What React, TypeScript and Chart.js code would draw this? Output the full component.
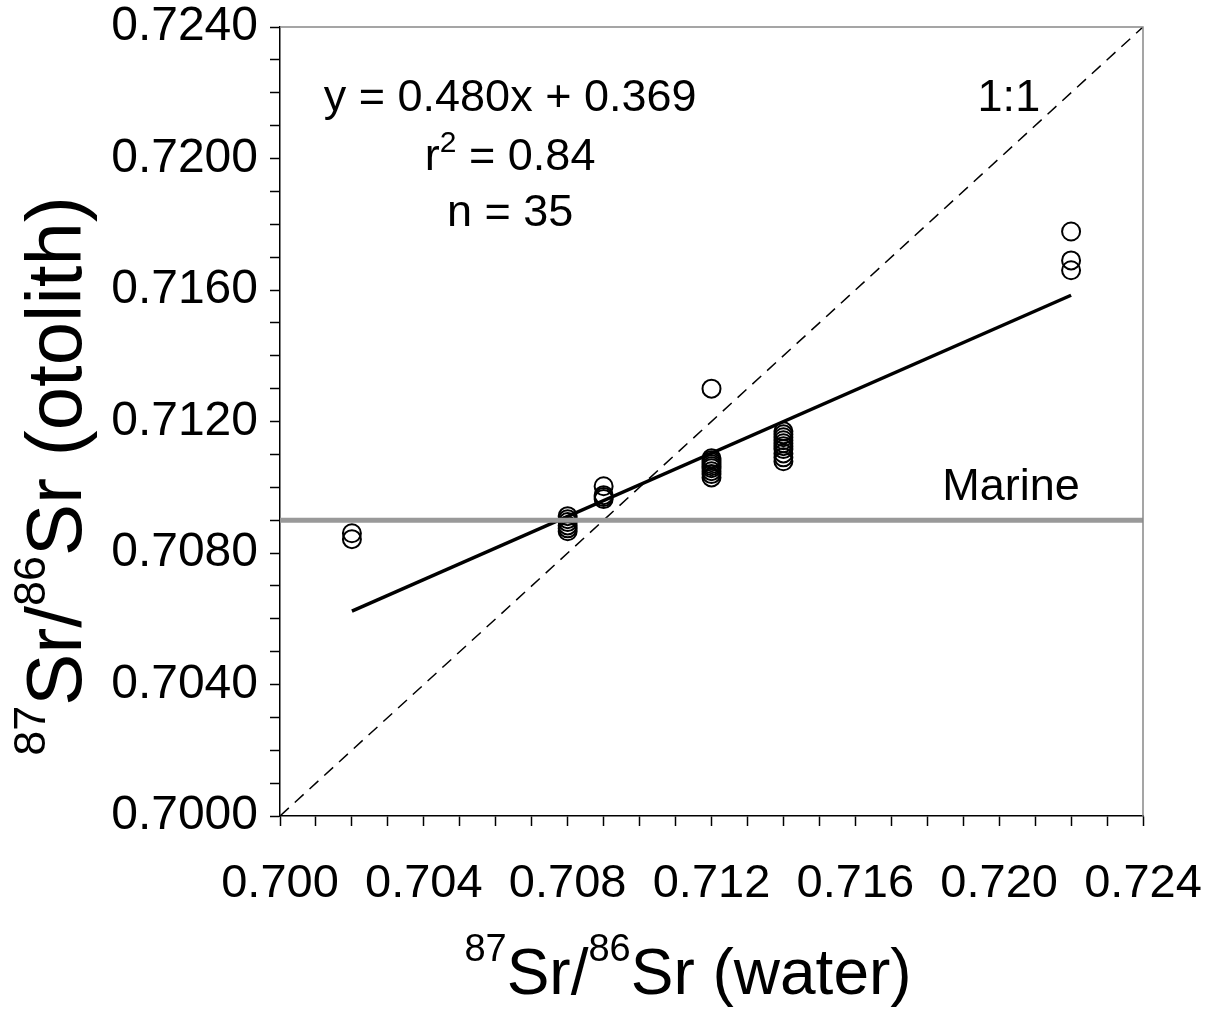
import React, { useEffect, useRef } from "react";
import { Chart, registerables } from "chart.js";

Chart.register(...registerables);

// ---- data ----
const waterX = [
  0.702, 0.702,
  0.708, 0.708, 0.708, 0.708, 0.708, 0.708,
  0.709, 0.709, 0.709, 0.709,
  0.712, 0.712, 0.712, 0.712, 0.712, 0.712, 0.712, 0.712, 0.712, 0.712,
  0.714, 0.714, 0.714, 0.714, 0.714, 0.714, 0.714, 0.714, 0.714, 0.714,
  0.722, 0.722, 0.722,
];
const otolithY = [
  0.7086, 0.70842,
  0.70912, 0.70903, 0.70894, 0.70884, 0.70875, 0.70866,
  0.71003, 0.70976, 0.7097, 0.70964,
  0.713, 0.71088, 0.71082, 0.71076, 0.7107, 0.71064, 0.71058, 0.71049, 0.7104, 0.7103,
  0.7117, 0.71161, 0.71152, 0.71143, 0.71134, 0.71125, 0.71116, 0.71103, 0.71091, 0.71079,
  0.71778, 0.7169, 0.7166,
];
const regressionX = [0.702, 0.722];
const regressionY = [0.70623, 0.71584];
const oneToOneX = [0.7, 0.724];
const oneToOneY = [0.7, 0.724];
const marineX = [0.7, 0.724];
const marineY = [0.709, 0.709];

const xMin = 0.7, xMax = 0.724, xStep = 0.001, xLabelEvery = 4;
const yMin = 0.7, yMax = 0.724, yStep = 0.001, yLabelEvery = 4;

const eqLines = ["y = 0.480x + 0.369", "n = 35"];
const r2Text = "0.84";

const FONT = "'Liberation Sans', Arial, sans-serif";

type Part = { t: string; sup?: boolean };

function drawParts(ctx: CanvasRenderingContext2D, parts: Part[], cx: number, baseline: number, main: number, sup: number, raise: number) {
  let total = 0;
  for (const p of parts) {
    ctx.font = `${p.sup ? sup : main}px ${FONT}`;
    total += ctx.measureText(p.t).width;
  }
  let x = cx - total / 2;
  ctx.textAlign = "left";
  ctx.textBaseline = "alphabetic";
  for (const p of parts) {
    ctx.font = `${p.sup ? sup : main}px ${FONT}`;
    ctx.fillText(p.t, x, p.sup ? baseline - raise : baseline);
    x += ctx.measureText(p.t).width;
  }
}

const overlayPlugin = {
  id: "overlay",
  afterDraw(chart: any) {
    const ctx: CanvasRenderingContext2D = chart.ctx;
    const { left, right, top, bottom } = chart.chartArea;
    const xs = chart.scales.x;
    const ys = chart.scales.y;
    ctx.save();
    // top and right frame
    ctx.strokeStyle = "#888888";
    ctx.lineWidth = 1.5;
    ctx.beginPath();
    ctx.moveTo(left, top);
    ctx.lineTo(right, top);
    ctx.lineTo(right, bottom);
    ctx.stroke();

    ctx.fillStyle = "#000";
    // equation block
    const cx = xs.getPixelForValue(0.7064);
    drawParts(ctx, [{ t: eqLines[0] }], cx, ys.getPixelForValue(0.72144), 45, 30, 0);
    drawParts(ctx, [{ t: "r" }, { t: "2", sup: true }, { t: " = " + r2Text }], cx, ys.getPixelForValue(0.71965), 45, 30, 18);
    drawParts(ctx, [{ t: eqLines[1] }], cx, ys.getPixelForValue(0.71795), 45, 30, 0);
    // 1:1 and Marine labels
    drawParts(ctx, [{ t: "1:1" }], xs.getPixelForValue(0.72027), ys.getPixelForValue(0.72144), 45, 30, 0);
    drawParts(ctx, [{ t: "Marine" }], xs.getPixelForValue(0.72033), ys.getPixelForValue(0.70961), 45, 30, 0);

    // x axis title
    drawParts(ctx, [{ t: "87", sup: true }, { t: "Sr/" }, { t: "86", sup: true }, { t: "Sr (water)" }], 688, 994, 64, 38, 33);
    // y axis title
    ctx.save();
    ctx.translate(81, 476);
    ctx.rotate(-Math.PI / 2);
    drawParts(ctx, [{ t: "87", sup: true }, { t: "Sr/" }, { t: "86", sup: true }, { t: "Sr (otolith)" }], 0, 0, 78, 45, 36);
    ctx.restore();
    ctx.restore();
  },
};

export default function App() {
  const ref = useRef<HTMLCanvasElement | null>(null);
  useEffect(() => {
    document.body.style.margin = "0";
    const canvas = ref.current;
    if (!canvas) return;
    const pts = waterX.map((x, i) => ({ x, y: otolithY[i] }));
    const chart = new Chart(canvas, {
      type: "scatter",
      data: {
        datasets: [
          {
            type: "line",
            label: "Marine",
            data: marineX.map((x, i) => ({ x, y: marineY[i] })),
            borderColor: "#999999",
            borderWidth: 5,
            pointRadius: 0,
            fill: false,
          },
          {
            label: "samples",
            data: pts,
            pointStyle: "circle",
            pointRadius: 9,
            pointBorderWidth: 2,
            pointBackgroundColor: "rgba(0,0,0,0)",
            pointBorderColor: "#000",
            showLine: false,
          },
          {
            type: "line",
            label: "regression",
            data: regressionX.map((x, i) => ({ x, y: regressionY[i] })),
            borderColor: "#000",
            borderWidth: 3.5,
            pointRadius: 0,
            fill: false,
          },
          {
            type: "line",
            label: "1:1",
            data: oneToOneX.map((x, i) => ({ x, y: oneToOneY[i] })),
            borderColor: "#000",
            borderWidth: 1.5,
            borderDash: [12, 8],
            pointRadius: 0,
            fill: false,
          },
        ],
      },
      options: {
        animation: false,
        responsive: true,
        maintainAspectRatio: false,
        layout: { padding: { top: 27, right: 69, left: 0, bottom: 0 } },
        plugins: { legend: { display: false }, tooltip: { enabled: false } },
        scales: {
          x: {
            type: "linear",
            min: xMin,
            max: xMax,
            afterFit: (s: any) => { s.height = 197; s.paddingLeft = 0; s.paddingRight = 0; },
            ticks: {
              stepSize: xStep,
              autoSkip: false,
              maxRotation: 0,
              padding: 30,
              color: "#000",
              font: { family: FONT, size: 47 },
              callback: (v: any) => (Math.round(Number(v) * 1000) % xLabelEvery === 0 ? Number(v).toFixed(3) : ""),
            },
            grid: { drawOnChartArea: false, drawTicks: true, tickLength: 10, tickColor: "#000", tickWidth: 1.5 },
            border: { color: "#000", width: 1.5 },
          },
          y: {
            type: "linear",
            min: yMin,
            max: yMax,
            afterFit: (s: any) => { s.width = 280; s.paddingTop = 0; s.paddingBottom = 0; },
            ticks: {
              stepSize: yStep,
              autoSkip: false,
              padding: 12,
              color: "#000",
              font: { family: FONT, size: 48 },
              callback: (v: any) => (Math.round(Number(v) * 1000) % yLabelEvery === 0 ? Number(v).toFixed(4) : ""),
            },
            grid: { drawOnChartArea: false, drawTicks: true, tickLength: 10, tickColor: "#000", tickWidth: 1.5 },
            border: { color: "#000", width: 1.5 },
          },
        },
      },
      plugins: [overlayPlugin],
    });
    return () => chart.destroy();
  }, []);
  return (
    <div style={{ width: 1212, height: 1013, position: "relative", background: "#fff" }}>
      <canvas ref={ref} />
    </div>
  );
}
